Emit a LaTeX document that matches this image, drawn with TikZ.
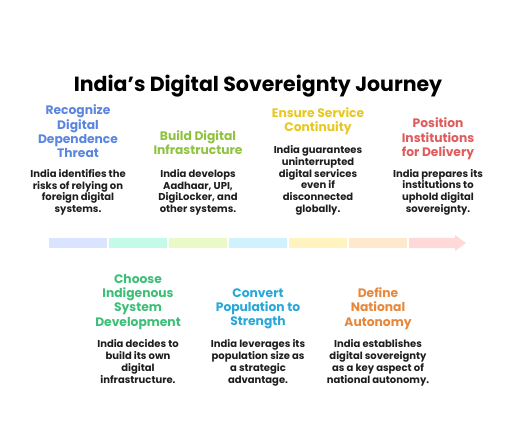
\documentclass[tikz,border=0pt]{standalone}
\usepackage{fontspec}
\setmainfont{Poppins}
\definecolor{ink}{HTML}{1E1E1E}
\definecolor{cBlue}{HTML}{5A86E0}
\definecolor{cLime}{HTML}{8FC33F}
\definecolor{cYellow}{HTML}{E6C820}
\definecolor{cRed}{HTML}{E05C5C}
\definecolor{cGreen}{HTML}{3DBF78}
\definecolor{cCyan}{HTML}{28A8D8}
\definecolor{cOrange}{HTML}{E8873A}
\definecolor{sBlue}{HTML}{DBE4FF}
\definecolor{sGreen}{HTML}{C3FAE8}
\definecolor{sLime}{HTML}{E9FAC8}
\definecolor{sCyan}{HTML}{D0F2FF}
\definecolor{sYellow}{HTML}{FFF3BF}
\definecolor{sOrange}{HTML}{FFE8CC}
\definecolor{sRed}{HTML}{FFD8D8}
\tikzset{
  headline/.style={font=\bfseries\fontsize{12.3bp}{14.3bp}\selectfont, align=center, inner sep=0pt},
  bodytext/.style={font=\bfseries\fontsize{10bp}{11.8bp}\selectfont, align=center, inner sep=0pt, text=ink},
}
\begin{document}
\begin{tikzpicture}[x=1bp,y=-1bp]
\useasboundingbox[fill=white] (0,0) rectangle (516,438);
\node[font=\bfseries\fontsize{20.5bp}{24bp}\selectfont, text=black, inner sep=0pt, anchor=base] (title) at (258,92) {India's Digital Sovereignty Journey};

% timeline bar
\fill[sBlue]   (49,238) rectangle (107,248);
\fill[sGreen]  (109,238) rectangle (167,248);
\fill[sLime]   (169,238) rectangle (227,248);
\fill[sCyan]   (229,238) rectangle (287,248);
\fill[sYellow] (289,238) rectangle (347,248);
\fill[sOrange] (349,238) rectangle (407,248);
\fill[sRed] (409,238) -- (455,238) -- (455,235) -- (466,243) -- (455,251) -- (455,248) -- (409,248) -- cycle;

% top items
\node[bodytext, anchor=south] (d1) at (78,215.5) {India identifies the\\risks of relying on\\foreign digital\\systems.};
\node[headline, text=cBlue, anchor=south] (t1) at (78,158) {Recognize\\Digital\\Dependence\\Threat};

\node[bodytext, anchor=south] (d2) at (198,215.5) {India develops\\Aadhaar, UPI,\\DigiLocker, and\\other systems.};
\node[headline, text=cLime, anchor=south] (t2) at (198,155) {Build Digital\\Infrastructure};

\node[bodytext, anchor=south] (d3) at (318,215.5) {India guarantees\\uninterrupted\\digital services\\even if\\disconnected\\globally.};
\node[headline, text=cYellow, anchor=south] (t3) at (318,135) {Ensure Service\\Continuity};

\node[bodytext, anchor=south] (d4) at (438,215.5) {India prepares its\\institutions to\\uphold digital\\sovereignty.};
\node[headline, text=cRed, anchor=south] (t4) at (438,160) {Position\\Institutions\\for Delivery};

% bottom items
\node[headline, text=cGreen, anchor=south] (t5) at (138,329.5) {Choose\\Indigenous\\System\\Development};
\node[bodytext, anchor=north] (d5) at (138,339.5) {India decides to\\build its own\\digital\\infrastructure.};

\node[headline, text=cCyan, anchor=south] (t6) at (258,329.5) {Convert\\Population to\\Strength};
\node[bodytext, anchor=north] (d6) at (258,339.5) {India leverages its\\population size as\\a strategic\\advantage.};

\node[headline, text=cOrange, anchor=south] (t7) at (378,329.5) {Define\\National\\Autonomy};
\node[bodytext, anchor=north] (d7) at (378,339.5) {India establishes\\digital sovereignty\\as a key aspect of\\national autonomy.};
\end{tikzpicture}
\end{document}
